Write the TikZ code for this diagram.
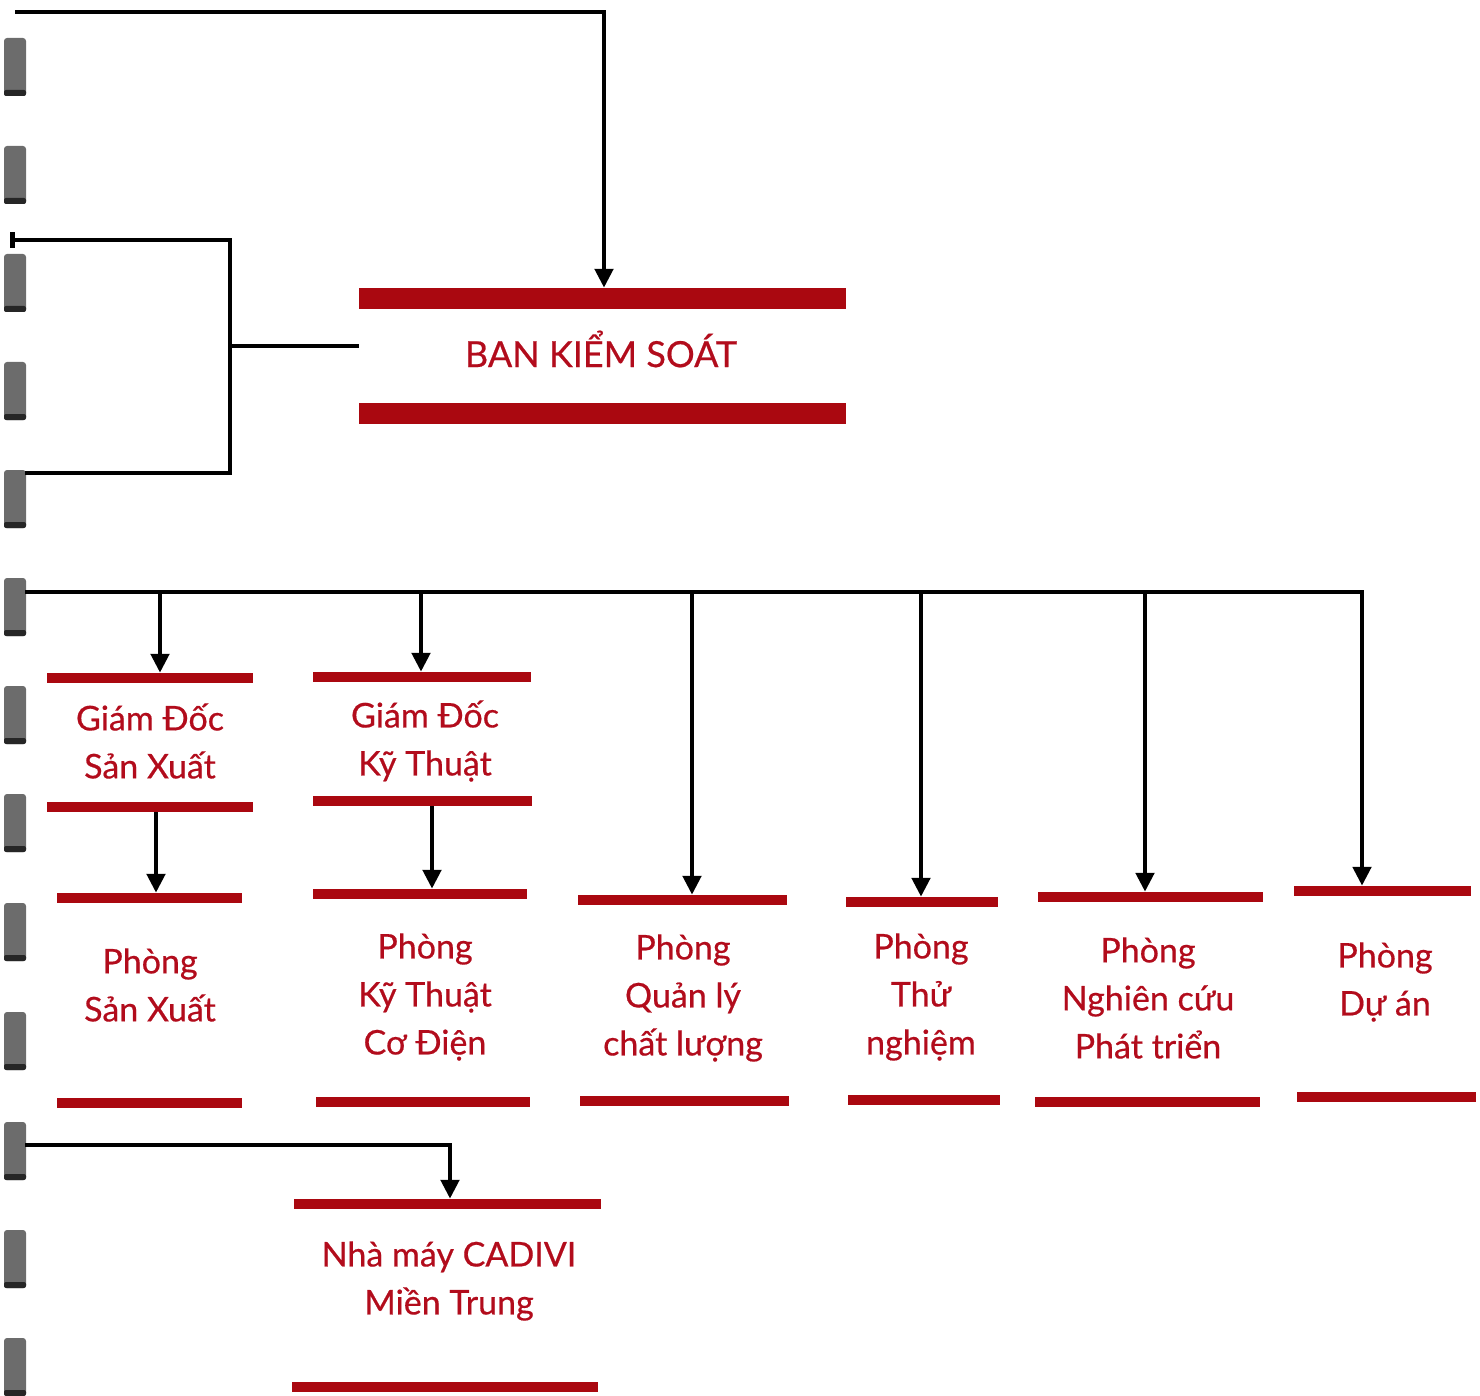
\documentclass[tikz,border=0pt]{standalone}
\usepackage{fontspec}
\setmainfont{Lato}
\newfontfamily\unitfont[FakeBold=0.5]{Lato}
\usetikzlibrary{positioning}
\usetikzlibrary{arrows.meta}

\definecolor{barred}{RGB}{170,8,16}
\definecolor{textred}{RGB}{178,12,28}
\definecolor{holegray}{RGB}{108,108,108}

\tikzset{
  redbar/.style={fill=barred, inner sep=0pt, minimum height=10pt},
  unit/.style={text=textred, align=center, inner sep=0pt,
    font=\unitfont\fontsize{34}{48}\selectfont},
  wire/.style={line width=4.8pt},
  link/.style={wire, -{Stealth[inset=0pt,length=19pt,width=18pt]}},
}

\begin{document}
\begin{tikzpicture}[x=1pt,y=-1pt]
\useasboundingbox (0,0) rectangle (1480,1396);

% binding holes
\foreach \y in {38,146,254,362,470,578,686,794,903,1012,1122,1230,1338}
  {
  \fill[holegray, rounded corners=3pt] (4,\y) rectangle (26,\y+58);
  \fill[black!85, rounded corners=2pt] (4,\y+52) rectangle (26,\y+58);
  }

% ban kiem soat
\node[redbar, minimum width=487pt, minimum height=21pt] (bks-t) at (602.5,298.5) {};
\node[redbar, minimum width=487pt, minimum height=21pt] (bks-b) at (602.5,413.5) {};
\node[unit, font=\unitfont\fontsize{36}{44}\selectfont] (bks) at (601,349) {BAN KIỂM SOÁT};

% directors
\node[redbar, minimum width=206pt] (gdsx-t) at (150,678) {};
\node[redbar, minimum width=206pt] (gdsx-b) at (150,807) {};
\node[unit] (gdsx) at (150,741) {Giám Đốc\\Sản Xuất};
\node[redbar, minimum width=218pt] (gdkt-t) at (422,677) {};
\node[redbar, minimum width=219pt] (gdkt-b) at (422.5,801) {};
\node[unit] (gdkt) at (425,741) {Giám Đốc\\Kỹ Thuật};

% departments
\node[redbar, minimum width=185pt] (psx-t) at (149.5,898) {};
\node[redbar, minimum width=185pt] (psx-b) at (149.5,1103) {};
\node[unit] (psx) at (150,985) {Phòng\\Sản Xuất};
\node[redbar, minimum width=214pt] (pkt-t) at (420,894) {};
\node[redbar, minimum width=214pt] (pkt-b) at (423,1102) {};
\node[unit] (pkt) at (425,997) {Phòng\\Kỹ Thuật\\Cơ Điện};
\node[redbar, minimum width=209pt] (pql-t) at (682.5,900) {};
\node[redbar, minimum width=209pt] (pql-b) at (684.5,1101) {};
\node[unit] (pql) at (683,998) {Phòng\\Quản lý\\chất  lượng};
\node[redbar, minimum width=152pt] (ptn-t) at (922,902) {};
\node[redbar, minimum width=152pt] (ptn-b) at (924,1100) {};
\node[unit] (ptn) at (921,997) {Phòng\\Thử\\nghiệm};
\node[redbar, minimum width=225pt] (pnc-t) at (1150.5,897) {};
\node[redbar, minimum width=225pt] (pnc-b) at (1147.5,1102) {};
\node[unit] (pnc) at (1148,998) {Phòng\\Nghiên cứu\\Phát triển};
\node[redbar, minimum width=177pt] (pda-t) at (1382.5,891) {};
\node[redbar, minimum width=179pt] (pda-b) at (1386.5,1097) {};
\node[unit] (pda) at (1385,982) {Phòng\\Dự án};

% factory
\node[redbar, minimum width=307pt] (nm-t) at (447.5,1204) {};
\node[redbar, minimum width=306pt] (nm-b) at (445,1387) {};
\node[unit] (nm) at (449,1281) {Nhà máy CADIVI\\Miền Trung};

% free ends at the left edge
\coordinate (topstart) at (15,12);
\coordinate (brtop) at (10,240);
\coordinate (brbot) at (25,473);
\coordinate (brmid) at (230,346);
\coordinate (busstart) at (25,592);
\coordinate (nmstart) at (25,1145);

\draw[link] (topstart) -| ([xshift=1.5pt]bks-t.north);
\draw[wire, {Bar[width=16pt]}-] (brtop) -| (brbot -| brmid) -- (brbot);
\draw[wire] (brmid) -- (brmid -| bks-t.west);
\draw[link] (busstart) -| ([xshift=-20.5pt]pda-t.north);
\draw[link] ([xshift=10pt]gdsx-t.north |- busstart) -- ([xshift=10pt]gdsx-t.north);
\draw[link] ([xshift=-1pt]gdkt-t.north |- busstart) -- ([xshift=-1pt]gdkt-t.north);
\draw[link] ([xshift=9.5pt]pql-t.north |- busstart) -- ([xshift=9.5pt]pql-t.north);
\draw[link] ([xshift=-1pt]ptn-t.north |- busstart) -- ([xshift=-1pt]ptn-t.north);
\draw[link] ([xshift=-5.5pt]pnc-t.north |- busstart) -- ([xshift=-5.5pt]pnc-t.north);
\draw[link] ([xshift=6pt]gdsx-b.south) -- ([xshift=6pt]gdsx-b.south |- psx-t.north);
\draw[link] ([xshift=9.5pt]gdkt-b.south) -- ([xshift=9.5pt]gdkt-b.south |- pkt-t.north);
\draw[link] (nmstart) -| ([xshift=2.5pt]nm-t.north);
\end{tikzpicture}
\end{document}
